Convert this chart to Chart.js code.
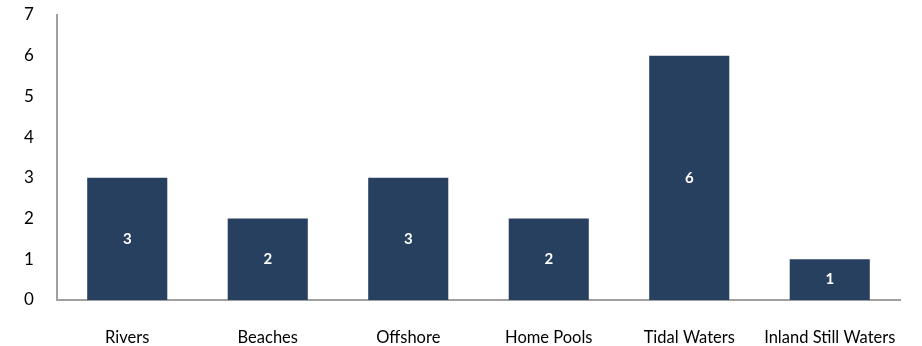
<!DOCTYPE html>
<html lang="en">
<head>
  <meta charset="UTF-8">
  <title>Incidents by location</title>
  <style>
    html, body {
      margin: 0;
      padding: 0;
      background: white;
    }
    .chart-wrapper {
      width: 922px;
      height: 346px;
    }
  </style>
</head>
<body>
  <div class="chart-wrapper">
    <canvas id="location-chart"></canvas>
  </div>

  <script src="https://cdn.jsdelivr.net/npm/chart.js@4.4.0/dist/chart.umd.min.js"></script>
  <script>
    const LOCATIONS = ['Rivers', 'Beaches', 'Offshore', 'Home Pools', 'Tidal Waters', 'Inland Still Waters'];
    const COUNTS = [3, 2, 3, 2, 6, 1];
    const Y_MIN = 0;
    const Y_MAX = 7;

    const BAR_COLOR = '#28405f';
    const AXIS_COLOR = '#a0a0a0';
    const FONT = 'Lato, "Open Sans", sans-serif';

    // white value labels in the middle of each bar
    const barLabels = {
      id: 'barLabels',
      afterDatasetsDraw(chart) {
        const ctx = chart.ctx;
        const meta = chart.getDatasetMeta(0);
        ctx.save();
        ctx.fillStyle = 'white';
        ctx.font = `bold 15px ${FONT}`;
        ctx.textAlign = 'center';
        ctx.textBaseline = 'middle';
        meta.data.forEach((bar, i) => {
          const { x, y, base } = bar.getProps(['x', 'y', 'base'], true);
          ctx.fillText(String(COUNTS[i]), x, (y + base) / 2);
        });
        ctx.restore();
      }
    };

    new Chart(document.getElementById('location-chart'), {
      type: 'bar',
      data: {
        labels: LOCATIONS,
        datasets: [{
          data: COUNTS,
          backgroundColor: BAR_COLOR,
          categoryPercentage: 1,
          barPercentage: 0.57
        }]
      },
      plugins: [barLabels],
      options: {
        responsive: true,
        maintainAspectRatio: false,
        animation: false,
        layout: {
          padding: { top: 15, right: 22, left: 24, bottom: 0 }
        },
        plugins: {
          legend: { display: false },
          tooltip: { enabled: false }
        },
        scales: {
          x: {
            grid: { display: false, drawTicks: false },
            border: { display: true, color: AXIS_COLOR, width: 2 },
            ticks: {
              color: '#000',
              font: { family: FONT, size: 16.5 },
              padding: 28,
              maxRotation: 0,
              autoSkip: false
            },
            afterFit(scale) {
              scale.height = 46;
              scale.paddingLeft = 0;
              scale.paddingRight = 0;
            }
          },
          y: {
            min: Y_MIN,
            max: Y_MAX,
            grid: { display: false, drawTicks: false },
            border: { display: true, color: AXIS_COLOR, width: 2 },
            ticks: {
              stepSize: 1,
              color: '#000',
              font: { family: FONT, size: 17 },
              padding: 0,
              crossAlign: 'far'
            },
            afterFit(scale) { scale.width = 33; }
          }
        }
      }
    });
  </script>
</body>
</html>
